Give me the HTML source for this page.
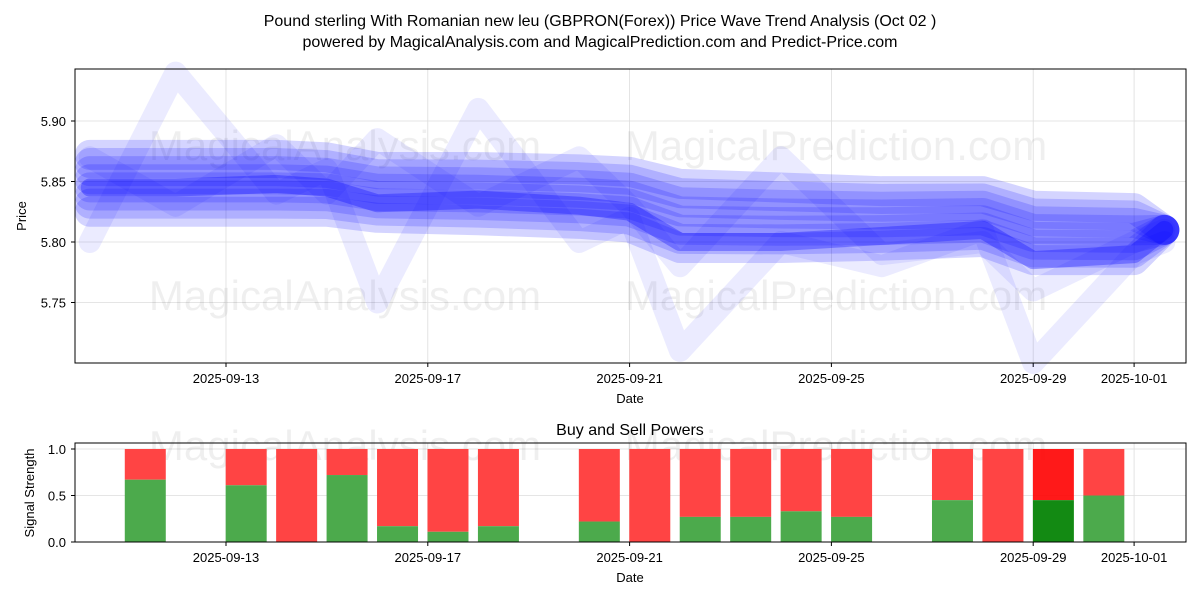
<!DOCTYPE html>
<html><head><meta charset="utf-8">
<style>
body{margin:0;background:#fff;font-family:"Liberation Sans",sans-serif;}
svg text{font-family:"Liberation Sans",sans-serif;fill:#000;}
</style></head>
<body>
<svg width="1200" height="600" xmlns="http://www.w3.org/2000/svg">
<text x="600" y="26" font-size="16" text-anchor="middle">Pound sterling With Romanian new leu (GBPRON(Forex)) Price Wave Trend Analysis (Oct 02 )</text>
<text x="600" y="47" font-size="16" text-anchor="middle">powered by MagicalAnalysis.com and MagicalPrediction.com and Predict-Price.com</text>
<g id="topg"></g>
<g id="botg"></g>
</svg>
<script>
// price wave data (days offset from 2025-09-13)
const waveDays = [-2.7,-1,1,2,3,5,7,8,9,11,13,15,16,18,18.6];
const waveMain = [5.845,5.845,5.848,5.845,5.832,5.835,5.83,5.825,5.80,5.80,5.805,5.81,5.785,5.79,5.81];
const waveUpper = [5.872,5.872,5.872,5.87,5.862,5.862,5.86,5.858,5.848,5.845,5.842,5.842,5.83,5.828,5.81];
const waveLower = [5.825,5.825,5.825,5.825,5.82,5.818,5.815,5.812,5.795,5.795,5.797,5.80,5.785,5.785,5.81];
const waveSpike = [5.80,5.94,5.84,5.86,5.75,5.91,5.80,5.82,5.71,5.80,5.78,5.81,5.70,5.79,5.80];
const waveSpike2 = [5.87,5.83,5.88,5.84,5.885,5.83,5.87,5.83,5.78,5.87,5.79,5.80,5.76,5.80,5.81];
// signal data
const barDays = [-1.6,0.4,1.4,2.4,3.4,4.4,5.4,7.4,8.4,9.4,10.4,11.4,12.4,14.4,15.4,16.4,17.4];
const buyVals = [0.67,0.61,0,0.72,0.17,0.11,0.17,0.22,0,0.27,0.27,0.33,0.27,0.45,0,0.45,0.5];
const priceTicks = [5.75,5.80,5.85,5.90];
const dateTicks = [0,4,8,12,16,18];
const dateLabels = ["2025-09-13","2025-09-17","2025-09-21","2025-09-25","2025-09-29","2025-10-01"];
const sigTicks = [0,0.5,1.0];

{
const NS="http://www.w3.org/2000/svg";
function mk(p,tag,a){const e=document.createElementNS(NS,tag);for(const k in a)e.setAttribute(k,a[k]);p.appendChild(e);return e;}
const X=d=>226+d*50.45;
const Y=v=>242-(v-5.80)*1210;
const YS=v=>542-v*93;
const topG=document.getElementById('topg'), botG=document.getElementById('botg');

priceTicks.forEach(t=>{
 const l=mk(topG,'line',{x1:75,x2:1186,y1:Y(t),y2:Y(t),stroke:'#ddd','stroke-width':0.8});
 
 
 mk(topG,'line',{x1:71,x2:75,y1:Y(t),y2:Y(t),stroke:'#000'});
 const tx=mk(topG,'text',{x:66,y:Y(t)+5,'font-size':13,'text-anchor':'end'});tx.textContent=t.toFixed(2);
 
 
});
dateTicks.forEach((d,i)=>{
 mk(topG,'line',{x1:X(d),x2:X(d),y1:69,y2:363,stroke:'#ddd','stroke-width':0.8});
 mk(topG,'line',{x1:X(d),x2:X(d),y1:363,y2:367,stroke:'#000'});
 const tx=mk(topG,'text',{x:X(d),y:383,'font-size':13,'text-anchor':'middle'});tx.textContent=dateLabels[i];
 
 
});
[[345,160,'MagicalAnalysis.com'],[836,160,'MagicalPrediction.com'],[345,310,'MagicalAnalysis.com'],[836,310,'MagicalPrediction.com']].forEach(w=>{
 const t=mk(topG,'text',{x:w[0],y:w[1],'font-size':42,'text-anchor':'middle',opacity:0.06});t.textContent=w[2];
 
 
});
function pts(arr,off){return waveDays.map((d,i)=>X(d)+','+(Y(arr[i]+off))).join(' ');}
function wave(arr,off,w,op){
 const p=mk(topG,'polyline',{points:pts(arr,off),fill:'none',stroke:'#0000ff','stroke-width':w,'stroke-opacity':op,'stroke-linejoin':'round','stroke-linecap':'round'});
 
 
}
wave(waveSpike,0,22,0.08);
wave(waveSpike2,0,22,0.08);
for(let k=0;k<=7;k++){
 const f=k/7;
 const arr=waveUpper.map((u,i)=>u*(1-f)+waveLower[i]*f);
 wave(arr,0,30,0.17);
}
wave(waveMain,0,18,0.3);
mk(topG,'rect',{x:75,y:69,width:1111,height:294,fill:'none',stroke:'#000','stroke-width':1});
let t=mk(topG,'text',{x:630,y:403,'font-size':13,'text-anchor':'middle'});t.textContent='Date';
t=mk(topG,'text',{x:26,y:216,'font-size':13,'text-anchor':'middle',transform:'rotate(-90 26 216)'});t.textContent='Price';

t=mk(botG,'text',{x:630,y:435,'font-size':16,'text-anchor':'middle'});t.textContent='Buy and Sell Powers';
sigTicks.forEach(v=>{
 mk(botG,'line',{x1:75,x2:1186,y1:YS(v),y2:YS(v),stroke:'#ddd','stroke-width':0.8});
 mk(botG,'line',{x1:71,x2:75,y1:YS(v),y2:YS(v),stroke:'#000'});
 const tx=mk(botG,'text',{x:66,y:YS(v)+5,'font-size':13,'text-anchor':'end'});tx.textContent=v.toFixed(1);
});
dateTicks.forEach((d,i)=>{
 mk(botG,'line',{x1:X(d),x2:X(d),y1:443,y2:542,stroke:'#ddd','stroke-width':0.8});
 mk(botG,'line',{x1:X(d),x2:X(d),y1:542,y2:546,stroke:'#000'});
 const tx=mk(botG,'text',{x:X(d),y:562,'font-size':13,'text-anchor':'middle'});tx.textContent=dateLabels[i];
});
[[345,460,'MagicalAnalysis.com'],[836,460,'MagicalPrediction.com']].forEach(w=>{
 const t=mk(botG,'text',{x:w[0],y:w[1],'font-size':42,'text-anchor':'middle',opacity:0.06});t.textContent=w[2];
});
barDays.forEach((d,i)=>{
 const dark=(i===15);
 const g=buyVals[i];
 const r=mk(botG,'rect',{x:X(d)-20.5,y:YS(1),width:41,height:YS(g)-YS(1),fill:dark?'#ff0000':'#ff4444',opacity:dark?0.9:1});
 
 
 const b=mk(botG,'rect',{x:X(d)-20.5,y:YS(g),width:41,height:YS(0)-YS(g),fill:dark?'#138a13':'#4caa4c'});
 
 
});
mk(botG,'rect',{x:75,y:443,width:1111,height:99,fill:'none',stroke:'#000','stroke-width':1});
t=mk(botG,'text',{x:630,y:582,'font-size':13,'text-anchor':'middle'});t.textContent='Date';
t=mk(botG,'text',{x:34,y:493,'font-size':13,'text-anchor':'middle',transform:'rotate(-90 34 493)'});t.textContent='Signal Strength';
}
</script>
</body></html>
